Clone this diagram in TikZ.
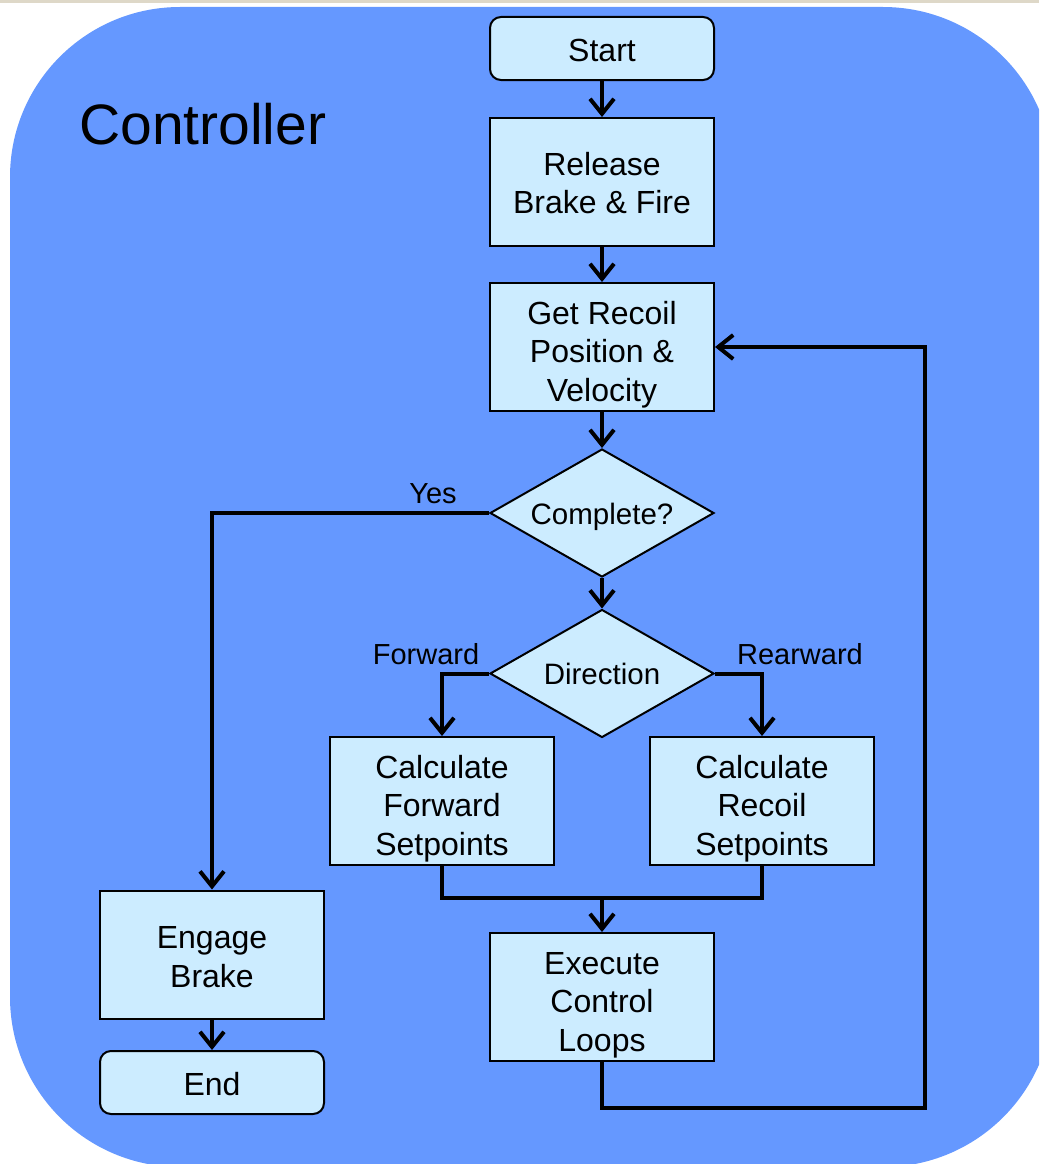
\documentclass[tikz,border=0pt]{standalone}
\usepackage{fontspec}
\setmainfont{Liberation Sans}
\usetikzlibrary{shapes.geometric,arrows.meta}
\definecolor{panel}{RGB}{101,152,255}
\definecolor{boxfill}{RGB}{204,236,255}
\definecolor{topstrip}{RGB}{222,216,200}
% centred stack of lines whose reference point sits #1 below the node centre
\newcommand{\linesdown}[2]{\raisebox{-#1}[0pt][0pt]{\begin{tabular}{@{}c@{}}#2\end{tabular}}}
% single line whose baseline sits #1 below the node centre
\newcommand{\onelinedown}[2]{\raisebox{-#1}[0pt][0pt]{#2}}
\tikzset{
  every node/.style={font=\fontsize{32}{38.5}\selectfont, align=center},
  procbox/.style={draw=black, line width=2pt, fill=boxfill, minimum width=224pt, minimum height=128pt, inner sep=0pt},
  termbox/.style={procbox, rounded corners=11pt, minimum height=63pt},
  decision/.style={draw=black, line width=2pt, fill=boxfill, diamond, aspect=1.75, minimum width=224pt, minimum height=128pt, inner sep=0pt, font=\fontsize{29.5}{34}\selectfont},
  flow/.style={line width=4pt},
  arr/.style={flow, -{Straight Barb[length=15pt,width=24pt,line width=4pt]}},
  branchlabel/.style={font=\fontsize{29}{34}\selectfont, inner sep=0pt}
}
\begin{document}
\begin{tikzpicture}[x=1pt,y=-1pt]
\useasboundingbox (0,0) rectangle (1039,1164);
\begin{scope}
  \clip (0,0) rectangle (1039,1164);
  \fill[topstrip] (0,0) rectangle (1039,3);
  \fill[panel, rounded corners=170pt] (10,7) rectangle (1053,1167);
\end{scope}

\node[anchor=base west, font=\fontsize{57}{64}\selectfont, inner sep=0pt] (title) at (79,144) {Controller};

\node[termbox] (start) at (602,48.5) {\onelinedown{13pt}{Start}};
\node[procbox] (release) at (602,182) {\linesdown{11.25pt}{Release\\Brake \& Fire}};
\node[procbox] (getrec) at (602,347) {\linesdown{14.5pt}{Get Recoil\\Position \&\\Velocity}};
\node[decision] (complete) at (602,513) {\onelinedown{11.5pt}{Complete?}};
\node[decision] (direction) at (602,673.5) {\onelinedown{11pt}{Direction}};
\node[procbox] (calcf) at (442,801) {\linesdown{14.5pt}{Calculate\\Forward\\Setpoints}};
\node[procbox] (calcr) at (762,801) {\linesdown{14.5pt}{Calculate\\Recoil\\Setpoints}};
\node[procbox] (exec) at (602,997) {\linesdown{14.5pt}{Execute\\Control\\Loops}};
\node[procbox] (engage) at (212,954.5) {\linesdown{12.25pt}{Engage\\Brake}};
\node[termbox] (endn) at (212,1082.5) {\onelinedown{13pt}{End}};

\coordinate (mj) at (602,898);
\coordinate (lp) at (925,1108);

\draw[arr] (start) -- (release);
\draw[arr] (release) -- (getrec);
\draw[arr] (getrec) -- (complete);
\draw[arr] (complete) -- (direction);
\draw[arr] (complete.west) -| (engage.north);
\draw[arr] (direction.west) -| (calcf.north);
\draw[arr] (direction.east) -| (calcr.north);
\draw[flow] (calcf.south) |- (mj) -| (calcr.south);
\draw[arr] (mj) -- (exec);
\draw[arr] (exec.south) |- (lp) |- (getrec.east);
\draw[arr] (engage) -- (endn);

\node[branchlabel] (yes) at (433,494) {Yes};
\node[branchlabel] (fwd) at (426,654) {Forward};
\node[branchlabel] (rear) at (800,654) {Rearward};
\end{tikzpicture}
\end{document}
